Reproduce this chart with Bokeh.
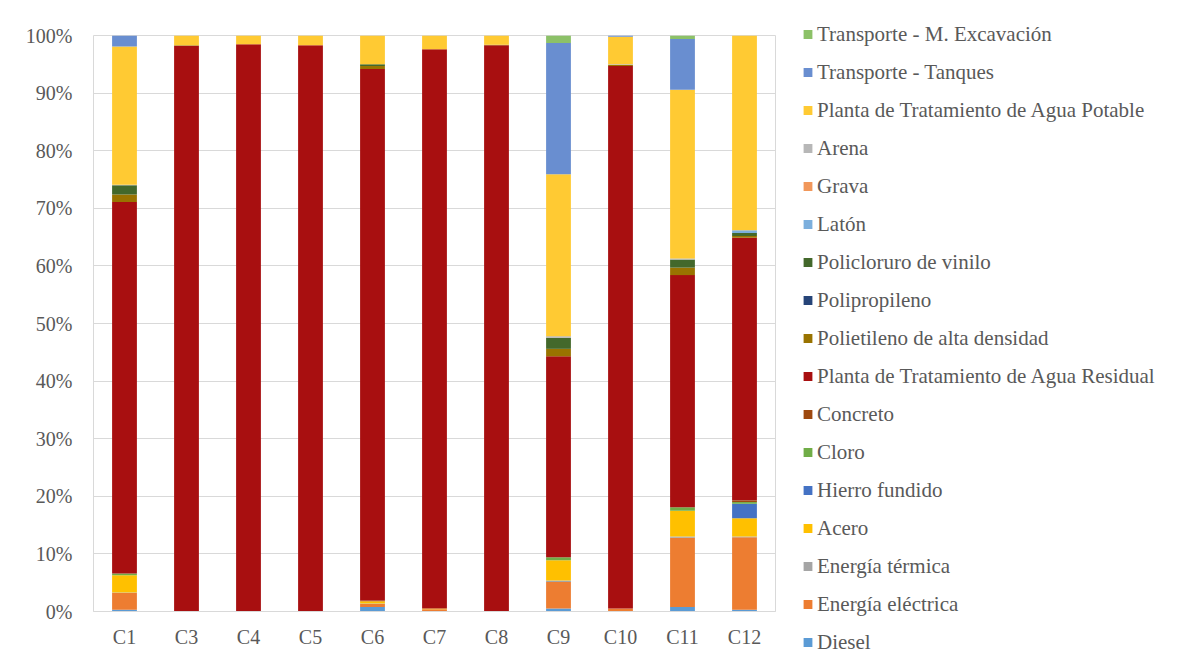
from bokeh.plotting import figure
from bokeh.models import FactorRange, Range1d, Legend, LegendItem, PrintfTickFormatter, FixedTicker
from bokeh.embed import file_html
from bokeh.resources import INLINE

categories = ["C1", "C3", "C4", "C5", "C6", "C7", "C8", "C9", "C10", "C11", "C12"]

series_names = [
    "Diesel", "Energía eléctrica", "Energía térmica", "Acero", "Hierro fundido", "Cloro",
    "Concreto", "Planta de Tratamiento de Agua Residual", "Polietileno de alta densidad",
    "Polipropileno", "Policloruro de vinilo", "Latón", "Grava", "Arena",
    "Planta de Tratamiento de Agua Potable", "Transporte - Tanques", "Transporte - M. Excavación",
]

diesel        = [0.3, 0.0, 0.0, 0.0, 0.8, 0.0, 0.0, 0.5, 0.1, 0.8, 0.3]
electrica     = [2.9, 0.1, 0.1, 0.1, 0.5, 0.4, 0.1, 4.6, 0.4, 12.0, 12.6]
termica       = [0.1, 0.0, 0.0, 0.0, 0.1, 0.0, 0.0, 0.3, 0.0, 0.2, 0.1]
acero         = [3.0, 0.0, 0.0, 0.0, 0.4, 0.1, 0.0, 3.5, 0.0, 4.5, 3.2]
hierro        = [0.0, 0.0, 0.0, 0.0, 0.0, 0.0, 0.0, 0.0, 0.0, 0.0, 2.5]
cloro         = [0.3, 0.0, 0.0, 0.0, 0.0, 0.0, 0.0, 0.5, 0.0, 0.6, 0.3]
concreto      = [0.0, 0.0, 0.0, 0.0, 0.1, 0.0, 0.0, 0.0, 0.0, 0.0, 0.3]
ptar          = [64.5, 98.1, 98.4, 98.2, 92.3, 97.1, 98.2, 34.9, 94.2, 40.3, 45.6]
polietileno   = [1.3, 0.1, 0.0, 0.0, 0.5, 0.0, 0.1, 1.3, 0.2, 1.3, 0.3]
polipropileno = [0.0, 0.0, 0.0, 0.0, 0.0, 0.0, 0.0, 0.0, 0.0, 0.0, 0.0]
pvc           = [1.6, 0.0, 0.0, 0.0, 0.3, 0.0, 0.0, 1.9, 0.0, 1.4, 0.5]
laton         = [0.0, 0.0, 0.0, 0.0, 0.0, 0.0, 0.0, 0.0, 0.0, 0.0, 0.5]
grava         = [0.0, 0.0, 0.0, 0.0, 0.0, 0.0, 0.0, 0.0, 0.0, 0.0, 0.0]
arena         = [0.1, 0.0, 0.0, 0.0, 0.0, 0.0, 0.0, 0.3, 0.1, 0.2, 0.0]
ptap          = [24.0, 1.7, 1.5, 1.7, 5.0, 2.4, 1.6, 28.1, 4.8, 29.3, 33.8]
tanques       = [1.9, 0.0, 0.0, 0.0, 0.0, 0.0, 0.0, 22.8, 0.2, 8.8, 0.0]
excavacion    = [0.0, 0.0, 0.0, 0.0, 0.0, 0.0, 0.0, 1.3, 0.0, 0.6, 0.0]

y_ticks = [0, 10, 20, 30, 40, 50, 60, 70, 80, 90, 100]

colors = [
    "#5B9BD5", "#ED7D31", "#A5A5A5", "#FFC000", "#4472C4", "#70AD47",
    "#9E480E", "#A80F10", "#997300", "#264478", "#43682B", "#7CAFDD",
    "#F1975A", "#B7B7B7", "#FFCA33", "#698ED0", "#8CC168",
]

series_values = [diesel, electrica, termica, acero, hierro, cloro, concreto, ptar,
                 polietileno, polipropileno, pvc, laton, grava, arena, ptap, tanques, excavacion]

keys = ["s%d" % i for i in range(len(series_names))]
data = {"cat": categories}
for k, v in zip(keys, series_values):
    data[k] = v

FONT = "Liberation Serif"
TXT = "#595959"
GRID = "#D9D9D9"

p = figure(
    x_range=FactorRange(*categories, range_padding=0.0),
    y_range=Range1d(0, 100),
    frame_width=682, frame_height=576,
    min_border_left=93, min_border_right=0, min_border_top=35, min_border_bottom=51,
    output_backend="svg", toolbar_location=None,
)
renderers = p.vbar_stack(keys, x="cat", width=0.4, color=colors, line_color=None, source=data)

p.outline_line_color = GRID
p.outline_line_width = 1
p.xgrid.grid_line_color = None
p.ygrid.grid_line_color = GRID
p.ygrid.grid_line_width = 1

p.yaxis.ticker = FixedTicker(ticks=y_ticks)
p.yaxis.formatter = PrintfTickFormatter(format="%d%%")
p.yaxis.axis_line_color = None
p.yaxis.major_tick_line_color = None
p.yaxis.minor_tick_line_color = None
p.yaxis.major_tick_out = 0
p.yaxis.minor_tick_out = 0
p.yaxis.major_label_standoff = 21
p.xaxis.axis_line_color = GRID
p.xaxis.major_tick_line_color = None
p.xaxis.minor_tick_line_color = None
p.xaxis.major_tick_out = 0
p.xaxis.minor_tick_out = 0
p.xaxis.major_label_standoff = 14
for ax in (p.xaxis, p.yaxis):
    ax.major_label_text_font = FONT
    ax.major_label_text_font_size = "20px"
    ax.major_label_text_color = TXT

items = [LegendItem(label=n, renderers=[r]) for n, r in zip(series_names, renderers)]
items.reverse()
legend = Legend(
    items=items, location="center_left", orientation="vertical",
    title=" ", title_text_font=FONT, title_text_font_size="21.5px", title_standoff=5,
    glyph_width=11, glyph_height=11, label_standoff=4, spacing=13, label_height=25,
    padding=0, margin=27, border_line_color=None, background_fill_alpha=0,
    label_text_font=FONT, label_text_font_size="21px", label_text_color=TXT,
)
p.add_layout(legend, "right")

html = file_html(p, INLINE)
html = html.replace("<head>", "<head><style>html, body { margin: 0; overflow: hidden; }</style>", 1)
open("out.html", "w").write(html)
